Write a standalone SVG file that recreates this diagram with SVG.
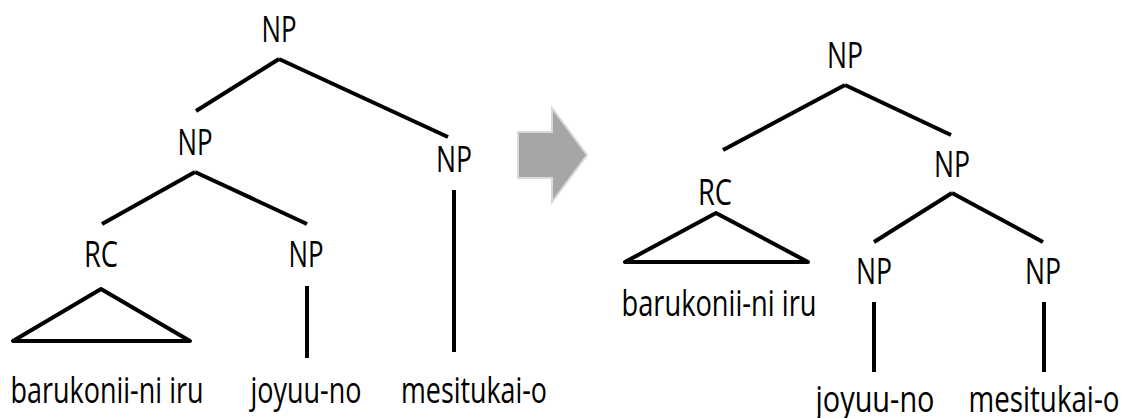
<svg xmlns="http://www.w3.org/2000/svg" width="1121" height="418" viewBox="0 0 1121 418">
<style>
  text { font-family: "Open Sans", "Noto Sans", "DejaVu Sans", sans-serif; font-size: 36px; fill: #000; text-anchor: middle; }
  .edge { stroke: #000; stroke-width: 4; fill: none; stroke-linecap: butt; }
  .tri { stroke: #000; stroke-width: 4; fill: none; stroke-linejoin: round; }
  .arrow { fill: #a6a6a6; stroke: #d9d9d9; stroke-width: 2; }
</style>
<rect width="1121" height="418" fill="#fff"/>
<g id="connectors">
  <line class="edge" x1="279" y1="59" x2="196" y2="111"/>
  <line class="edge" x1="279" y1="59" x2="448" y2="137"/>
  <line class="edge" x1="195" y1="172" x2="102" y2="224"/>
  <line class="edge" x1="195" y1="172" x2="307" y2="224"/>
  <line class="edge" x1="307" y1="286" x2="307" y2="358"/>
  <line class="edge" x1="454" y1="190" x2="454" y2="352"/>
  <polygon class="tri" points="101,289 13,341 190,341"/>
  <line class="edge" x1="845" y1="85" x2="723" y2="150"/>
  <line class="edge" x1="845" y1="85" x2="951" y2="135"/>
  <line class="edge" x1="952" y1="193" x2="874" y2="242"/>
  <line class="edge" x1="952" y1="193" x2="1043" y2="242"/>
  <line class="edge" x1="874" y1="302" x2="874" y2="372"/>
  <line class="edge" x1="1044" y1="302" x2="1044" y2="372"/>
  <polygon class="tri" points="716,213 625,262 808,262"/>
</g>
<g id="arrow">
  <path class="arrow" d="M518,132 H552 V108 L587,155 L552,202 V178 H518 Z"/>
</g>
<g id="left-np-top"><text x="279" y="42" textLength="35" lengthAdjust="spacingAndGlyphs">NP</text></g>
<g id="left-np-mid"><text x="195" y="155" textLength="35" lengthAdjust="spacingAndGlyphs">NP</text></g>
<g id="left-np-right"><text x="454" y="172" textLength="36" lengthAdjust="spacingAndGlyphs">NP</text></g>
<g id="left-rc"><text x="101" y="267" textLength="34" lengthAdjust="spacingAndGlyphs">RC</text></g>
<g id="left-np-joyuu"><text x="306" y="267" textLength="35" lengthAdjust="spacingAndGlyphs">NP</text></g>
<g id="left-barukonii"><text x="107" y="403" textLength="193" lengthAdjust="spacingAndGlyphs">barukonii-ni iru</text></g>
<g id="left-joyuu"><text x="306" y="403" textLength="111" lengthAdjust="spacingAndGlyphs">joyuu-no</text></g>
<g id="left-mesitukai"><text x="474" y="403" textLength="146" lengthAdjust="spacingAndGlyphs">mesitukai-o</text></g>
<g id="right-np-top"><text x="845" y="68" textLength="36" lengthAdjust="spacingAndGlyphs">NP</text></g>
<g id="right-rc"><text x="715" y="205" textLength="34" lengthAdjust="spacingAndGlyphs">RC</text></g>
<g id="right-np-mid"><text x="952" y="177" textLength="36" lengthAdjust="spacingAndGlyphs">NP</text></g>
<g id="right-np-joyuu"><text x="874" y="284" textLength="36" lengthAdjust="spacingAndGlyphs">NP</text></g>
<g id="right-np-mesitukai"><text x="1043" y="284" textLength="36" lengthAdjust="spacingAndGlyphs">NP</text></g>
<g id="right-barukonii"><text x="719" y="316" textLength="195" lengthAdjust="spacingAndGlyphs">barukonii-ni iru</text></g>
<g id="right-joyuu"><text x="875" y="412" textLength="119" lengthAdjust="spacingAndGlyphs">joyuu-no</text></g>
<g id="right-mesitukai"><text x="1044" y="412" textLength="151" lengthAdjust="spacingAndGlyphs">mesitukai-o</text></g>
</svg>
